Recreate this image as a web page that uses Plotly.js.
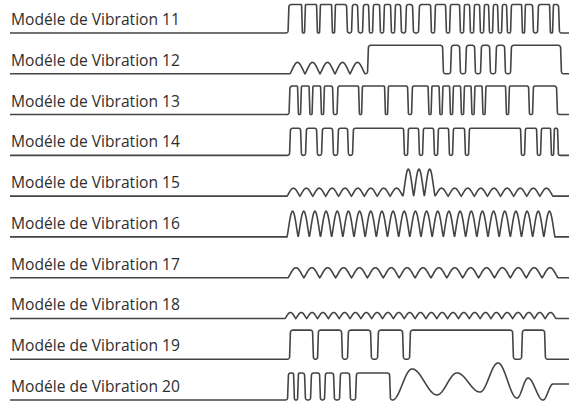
<!DOCTYPE html>
<html><head><meta charset="utf-8">
<script src="https://cdn.plot.ly/plotly-3.0.1.min.js"></script>
<style>html,body{margin:0;padding:0;background:#fff}#chart{width:569px;height:402px}</style>
</head><body><div id="chart"></div>
<script>
// Row labels
const labels = ['Modéle de Vibration 11','Modéle de Vibration 12','Modéle de Vibration 13','Modéle de Vibration 14','Modéle de Vibration 15','Modéle de Vibration 16','Modéle de Vibration 17','Modéle de Vibration 18','Modéle de Vibration 19','Modéle de Vibration 20'];

// Time unit = 10 ms from pattern start. Pulses: [on, off]; intensity in % of full vibration.
const row11Pulses = [[0.5,14],[17,29],[32,44],[47,59],[64,70],[75,81],[85,92],[96,103],[107,113],[118,125],[131,143],[147,158],[162,172],[176,182],[186,192],[196,201],[205,210],[214,219],[223,234],[237,245],[250,262],[265,271]];
const row11Level = 100;

// Trains of soft bumps: [from, to, count, intensity]
const row12Trains = [[2,77,5,40]];
const row12Pulses = [[80,155],[163,172],[178,187],[193,202],[208,217],[223,273]];
const row12Level = 100;

const row13Pulses = [[1.5,10],[13,21.5],[24.5,33],[36,45],[49.5,71],[74,97],[100,120],[124,140.5],[143.5,151.5],[154.5,162],[165,173],[176,183.5],[186.5,194.5],[197.5,218],[221,241],[245,269]];
const row13Level = 100;

const row14Pulses = [[2,13],[18,29],[34,45],[50,60],[65,116],[120,131],[135,146],[150,161],[165,177],[181,233],[237,249],[253,263],[266,270]];
const row14Level = 95;

const row15Trains = [[-1,115,9,28],[115,147,3,95],[147,265,9,28]];
const row16Trains = [[-1,267,24,90]];
const row17Trains = [[0,270,17,35]];
const row18Trains = [[-3,268,25,21]];

const row19Pulses = [[2,25],[30,54],[60,83],[90,115],[122,225],[234,257]];
const row19Level = 102;

const row20Pulses = [[0,6],[10,17],[23,32],[37,46],[52,62],[68,102]];
const row20Level = 95;
const row20WaveT = [104.5,124,149,169,192,210,229,240,255,265];
const row20WaveV = [0,109,18,95,28,130,7,77,0,56];

// ---- drawing helpers (geometry only; both axes are in screen-pixel scale) ----
const ROW_GAP = 40.78, AMP = 28.5, RAD = 2.4, SLANT = 0.4, X0 = -278, X1 = 281;
const lv = v => v/100*AMP;

function edge(pts, xc, r, h0, h1){
  const d = h1>h0 ? 1 : -1;
  r = Math.min(r, Math.abs(h1-h0)/2);
  const N = 8;
  for(let j=0;j<=N;j++){ const a=j/N*Math.PI/2;
    pts.push([xc-SLANT-r+r*Math.sin(a), h0+d*(r-r*Math.cos(a))]); }
  for(let j=0;j<=N;j++){ const a=j/N*Math.PI/2;
    pts.push([xc+SLANT+r-r*Math.cos(a), h1-d*r+d*r*Math.sin(a)]); }
}
function pulseParts(pulses, level){
  const H = lv(level);
  return pulses.map(([s,e],i) => {
    const prevE = i>0 ? pulses[i-1][1] : -1e9;
    const nextS = i<pulses.length-1 ? pulses[i+1][0] : 1e9;
    const w = (e-s)/2 - SLANT;
    const rs = Math.max(0.3, Math.min(RAD, (s-prevE)/2 - SLANT, w));
    const re = Math.max(0.3, Math.min(RAD, (nextS-e)/2 - SLANT, w));
    const pts = [];
    edge(pts, s, rs, 0, H);
    edge(pts, e, re, H, 0);
    return pts;
  });
}
function trainParts(trains){
  return trains.map(([a,b,n,amp]) => {
    const p=(b-a)/n, pts=[], M=28;
    for(let i=0;i<n;i++) for(let j=(i?1:0);j<=M;j++){
      const u=j/M; pts.push([a+(i+u)*p, lv(amp)*Math.pow((1-Math.cos(2*Math.PI*u))/2,0.6)]);
    }
    return pts;
  });
}
function waveParts(ts, vs){
  const pts=[];
  for(let i=0;i<ts.length;i++){
    pts.push([ts[i], lv(vs[i])]);
    if(i<ts.length-1){
      const n=Math.ceil((ts[i+1]-ts[i])/0.25);
      for(let j=1;j<n;j++){ const u=j/n, e=(1-Math.cos(Math.PI*u))/2;
        pts.push([ts[i]+(ts[i+1]-ts[i])*u, lv(vs[i]+(vs[i+1]-vs[i])*e)]); }
    }
  }
  return [pts];
}
function assemble(parts, base){
  parts.sort((p,q)=>p[0][0]-q[0][0]);
  const xs=[X0], ys=[base];
  parts.forEach(pts=>pts.forEach(([x,y])=>{ xs.push(x); ys.push(base+y); }));
  xs.push(X1); ys.push(ys[ys.length-1]);
  return {xs, ys};
}

const rowParts = [
  pulseParts(row11Pulses,row11Level),
  trainParts(row12Trains).concat(pulseParts(row12Pulses,row12Level)),
  pulseParts(row13Pulses,row13Level),
  pulseParts(row14Pulses,row14Level),
  trainParts(row15Trains),
  trainParts(row16Trains),
  trainParts(row17Trains),
  trainParts(row18Trains),
  pulseParts(row19Pulses,row19Level),
  pulseParts(row20Pulses,row20Level).concat(waveParts(row20WaveT,row20WaveV))
];

const traces = [], annotations = [];
rowParts.forEach((parts,i)=>{
  const base = -i*ROW_GAP;
  const {xs,ys} = assemble(parts, base);
  traces.push({x:xs, y:ys, type:'scatter', mode:'lines', hoverinfo:'skip',
    line:{color:'#444444', width:1.6, simplify:false}});
  annotations.push({x:X0-1, y:base+14, xref:'x', yref:'y', text:labels[i], showarrow:false,
    xanchor:'left', yanchor:'middle', font:{family:'Open Sans', size:15.6, color:'#2e2e2e'}});
});

Plotly.newPlot('chart', traces, {
  width:569, height:402, margin:{l:0,r:0,t:0,b:0},
  paper_bgcolor:'#ffffff', plot_bgcolor:'#ffffff', showlegend:false,
  xaxis:{range:[-288,281], visible:false, fixedrange:true},
  yaxis:{range:[-369,33], visible:false, fixedrange:true},
  annotations
}, {displayModeBar:false, staticPlot:true});
</script></body></html>
